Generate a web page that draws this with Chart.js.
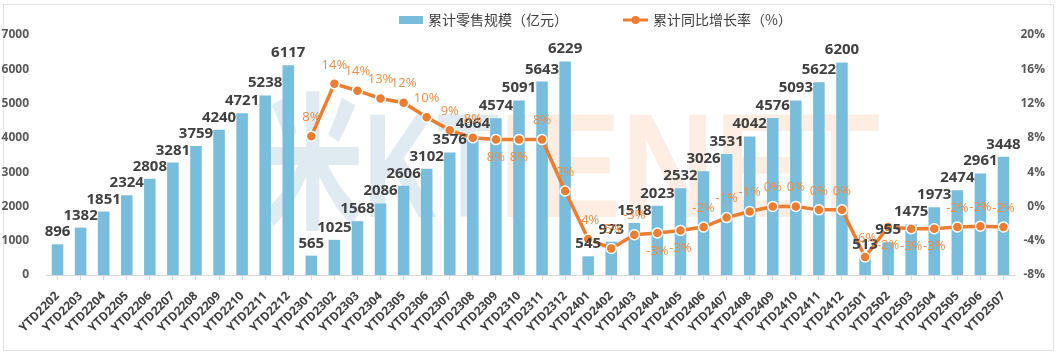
<!DOCTYPE html>
<html>
<head>
<meta charset="utf-8">
<script src="https://cdn.jsdelivr.net/npm/chart.js@4/dist/chart.umd.min.js"></script>
<style>
html,body{margin:0;padding:0;background:#fff;}
#wrap{position:relative;width:1058px;height:356px;overflow:hidden;}
#frame{position:absolute;left:3px;top:4px;width:1051px;height:347px;border:1px solid #e3e3e3;box-sizing:border-box;}
canvas{position:absolute;left:0;top:0;}
</style>
</head>
<body>
<div id="wrap"><div id="frame"></div><canvas id="c" width="1058" height="356"></canvas></div>
<script>
// ---------- data ----------
const categories = [
  'YTD2202','YTD2203','YTD2204','YTD2205','YTD2206','YTD2207','YTD2208','YTD2209','YTD2210','YTD2211','YTD2212',
  'YTD2301','YTD2302','YTD2303','YTD2304','YTD2305','YTD2306','YTD2307','YTD2308','YTD2309','YTD2310','YTD2311','YTD2312',
  'YTD2401','YTD2402','YTD2403','YTD2404','YTD2405','YTD2406','YTD2407','YTD2408','YTD2409','YTD2410','YTD2411','YTD2412',
  'YTD2501','YTD2502','YTD2503','YTD2504','YTD2505','YTD2506','YTD2507'
];
const salesValues = [
  896,1382,1851,2324,2808,3281,3759,4240,4721,5238,6117,
  565,1025,1568,2086,2606,3102,3576,4064,4574,5091,5643,6229,
  545,973,1518,2023,2532,3026,3531,4042,4576,5093,5622,6200,
  513,955,1475,1973,2474,2961,3448
];
const growthValues = [
  null,null,null,null,null,null,null,null,null,null,null,
  8.2,14.3,13.5,12.6,12.1,10.4,8.9,8.0,7.8,7.8,7.8,1.8,
  -3.8,-4.9,-3.3,-3.1,-2.8,-2.4,-1.3,-0.6,0.0,0.0,-0.4,-0.4,
  -5.9,-2.4,-2.6,-2.6,-2.4,-2.3,-2.4
];
const leftTickValues = [0,1000,2000,3000,4000,5000,6000,7000];
const rightTickValues = [-8,-4,0,4,8,12,16,20];
const seriesNames = ['累计零售规模（亿元）','累计同比增长率（%）'];
const watermarkParts = ['米KT','IENET'];
// categories whose growth label sits under the point
const belowLabelCats = ['YTD2309','YTD2310','YTD2404','YTD2405','YTD2502','YTD2503','YTD2504'];

// ---------- styles ----------
const BAR_COLOR = '#78BDDC';
const LINE_COLOR = '#ED7D31';
const PCT_COLOR = '#EA8E45';
const TEXT_DARK = '#404040';
const NUM_FONT = '"Open Sans", "Noto Sans", sans-serif';
const CJK_FONT = '"Noto Sans CJK SC", "Noto Sans", sans-serif';

const watermarkPlugin = {
  id: 'watermark',
  beforeDatasetsDraw(chart) {
    const ctx = chart.ctx;
    ctx.save();
    ctx.font = 'bold 148px "Liberation Sans", "Noto Sans CJK SC", sans-serif';
    ctx.textBaseline = 'alphabetic';
    ctx.textAlign = 'left';
    const boxes = [[262, 499, '#e0ebf1'], [499, 880, '#fdede2']];
    watermarkParts.forEach((t, i) => {
      const [x0, x1, col] = boxes[i];
      const w = ctx.measureText(t).width;
      ctx.save();
      ctx.translate(x0, 217);
      ctx.scale((x1 - x0) / w, 1);
      ctx.fillStyle = col;
      ctx.fillText(t, 0, 0);
      ctx.restore();
    });
    ctx.restore();
  }
};

const labelPlugin = {
  id: 'valueLabels',
  afterDatasetsDraw(chart) {
    const ctx = chart.ctx;
    ctx.save();
    // bar labels
    const barMeta = chart.getDatasetMeta(0);
    ctx.font = 'bold 15px ' + NUM_FONT;
    ctx.fillStyle = TEXT_DARK;
    ctx.textAlign = 'center';
    ctx.textBaseline = 'alphabetic';
    barMeta.data.forEach((el, i) => {
      ctx.fillText(String(salesValues[i]), el.x, el.y - 8);
    });
    // line labels
    const lineMeta = chart.getDatasetMeta(1);
    ctx.font = '500 13px ' + NUM_FONT;
    ctx.fillStyle = PCT_COLOR;
    ctx.textBaseline = 'middle';
    lineMeta.data.forEach((el, i) => {
      const v = growthValues[i];
      if (v === null || v === undefined) return;
      const r = Math.round(v) || 0;
      const below = belowLabelCats.includes(categories[i]);
      ctx.fillText(r + '%', el.x, below ? el.y + 18 : el.y - 19);
    });
    ctx.restore();
  }
};

const legendPlugin = {
  id: 'customLegend',
  afterDraw(chart) {
    const ctx = chart.ctx;
    ctx.save();
    ctx.font = '14px ' + CJK_FONT;
    ctx.fillStyle = TEXT_DARK;
    ctx.textBaseline = 'middle';
    ctx.textAlign = 'left';
    const y = 20;
    let x = 399;
    ctx.fillStyle = BAR_COLOR;
    ctx.fillRect(x, y - 4, 24, 8);
    x += 29;
    ctx.fillStyle = TEXT_DARK;
    ctx.fillText(seriesNames[0], x, y);
    x += ctx.measureText(seriesNames[0]).width + 55;
    ctx.strokeStyle = LINE_COLOR;
    ctx.lineWidth = 3;
    ctx.beginPath(); ctx.moveTo(x, y); ctx.lineTo(x + 25, y); ctx.stroke();
    ctx.fillStyle = LINE_COLOR;
    ctx.beginPath(); ctx.arc(x + 12.5, y, 4, 0, Math.PI * 2); ctx.fill();
    x += 30;
    ctx.fillStyle = TEXT_DARK;
    ctx.fillText(seriesNames[1], x, y);
    ctx.restore();
  }
};

new Chart(document.getElementById('c'), {
  type: 'bar',
  data: {
    labels: categories,
    datasets: [
      {
        type: 'bar',
        label: seriesNames[0],
        data: salesValues,
        backgroundColor: BAR_COLOR,
        yAxisID: 'y',
        categoryPercentage: 1,
        barPercentage: 0.5,
        order: 2
      },
      {
        type: 'line',
        label: seriesNames[1],
        data: growthValues,
        borderColor: LINE_COLOR,
        borderWidth: 3.5,
        backgroundColor: LINE_COLOR,
        pointBackgroundColor: LINE_COLOR,
        pointBorderColor: '#ffffff',
        pointBorderWidth: 1.5,
        pointRadius: 5,
        tension: 0,
        spanGaps: false,
        yAxisID: 'y1',
        order: 1
      }
    ]
  },
  options: {
    responsive: false,
    animation: false,
    devicePixelRatio: 1,
    layout: { padding: { top: 35, right: 13, bottom: 0, left: 0 } },
    plugins: {
      legend: { display: false },
      tooltip: { enabled: false },
      title: { display: false }
    },
    scales: {
      x: {
        grid: { display: true, drawOnChartArea: false, offset: false, tickLength: 5, color: '#d9d9d9' },
        border: { display: true, color: '#d9d9d9' },
        ticks: {
          autoSkip: false, minRotation: 45, maxRotation: 45, padding: 9,
          color: TEXT_DARK, font: { family: NUM_FONT, size: 12, weight: 'bold' }
        },
        afterFit(s) { s.height = 81; }
      },
      y: {
        position: 'left',
        min: leftTickValues[0], max: leftTickValues[leftTickValues.length - 1],
        afterBuildTicks(s) { s.ticks = leftTickValues.map(v => ({ value: v })); },
        grid: { display: false },
        border: { display: false },
        ticks: {
          padding: 9, color: '#595959', font: { family: NUM_FONT, size: 12, weight: 'bold' },
          callback: v => String(v)
        },
        afterFit(s) { s.width = 46; }
      },
      y1: {
        position: 'right',
        min: rightTickValues[0], max: rightTickValues[rightTickValues.length - 1],
        afterBuildTicks(s) { s.ticks = rightTickValues.map(v => ({ value: v })); },
        grid: { display: false },
        border: { display: false },
        ticks: {
          crossAlign: 'far', color: '#595959',
          font: { family: NUM_FONT, size: 12, weight: 'bold' },
          callback: v => v + '%'
        },
        afterFit(s) { s.width = 30; }
      }
    }
  },
  plugins: [watermarkPlugin, labelPlugin, legendPlugin]
});
</script>
</body>
</html>
